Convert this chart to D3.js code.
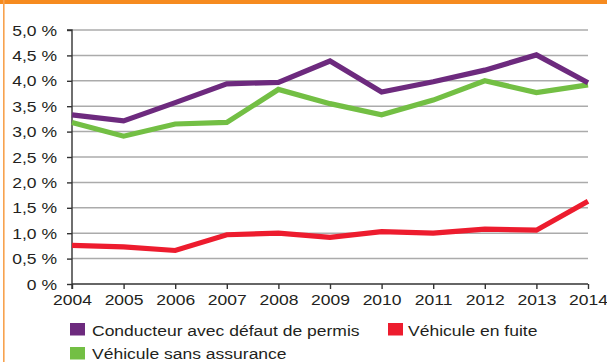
<!DOCTYPE html>
<html>
<head>
<meta charset="utf-8">
<script src="https://cdn.jsdelivr.net/npm/d3@7/dist/d3.min.js"></script>
<style>
  html, body { margin: 0; padding: 0; background: #fff; }
  svg { display: block; }
  text { font-family: "Liberation Sans", Arial, Helvetica, sans-serif; font-size: 14.6px; fill: #231f20; }
</style>
</head>
<body>
<svg id="chart" width="607" height="362"></svg>
<script>
// Years on the horizontal axis
const years = [2004, 2005, 2006, 2007, 2008, 2009, 2010, 2011, 2012, 2013, 2014];

// Share of accidents (%) by situation
const defautPermis = [3.33, 3.21, 3.57, 3.94, 3.97, 4.39, 3.78, 3.98, 4.21, 4.51, 3.96];
const sansAssurance = [3.18, 2.91, 3.15, 3.18, 3.83, 3.55, 3.33, 3.62, 4.0, 3.77, 3.92];
const enFuite = [0.76, 0.73, 0.66, 0.97, 1.0, 0.92, 1.03, 1.0, 1.08, 1.06, 1.63];

// Vertical axis ticks and their labels
const yTicks = [0, 0.5, 1, 1.5, 2, 2.5, 3, 3.5, 4, 4.5, 5];
const yTickLabels = ["0 %", "0,5 %", "1,0 %", "1,5 %", "2,0 %", "2,5 %", "3,0 %", "3,5 %", "4,0 %", "4,5 %", "5,0 %"];

const seriesNames = ["Conducteur avec défaut de permis", "Véhicule en fuite", "Véhicule sans assurance"];
const seriesColors = ["#6d2a7e", "#ed1c2e", "#73bf44"];
const seriesValues = [defautPermis, enFuite, sansAssurance];

const svg = d3.select("#chart");
const stretch = "scale(1.2,1)";
const fontSize = "14.6px";

// Orange frame: top band and thin left rule
svg.append("rect").attr("x", 0).attr("y", 0).attr("width", 607).attr("height", 4).attr("fill", "#f68b1f");
svg.append("rect").attr("x", 3).attr("y", 0).attr("width", 1.6).attr("height", 362).attr("fill", "#f7a24f");

const x = d3.scaleLinear().domain([2004, 2014]).range([72, 588]);
const y = d3.scaleLinear().domain([0, 5]).range([284, 30]);

// Horizontal gridlines
svg.append("g")
  .selectAll("line")
  .data(yTicks.filter(d => d > 0))
  .join("line")
  .attr("x1", x(2004)).attr("x2", x(2014))
  .attr("y1", d => y(d)).attr("y2", d => y(d))
  .attr("stroke", "#ababab")
  .attr("stroke-width", 1.5);

// Y axis
const yAxis = svg.append("g")
  .attr("transform", `translate(${x(2004)},0)`)
  .call(d3.axisLeft(y).tickValues(yTicks).tickSize(5).tickFormat((d, i) => yTickLabels[i]));
yAxis.select(".domain").attr("stroke", "#333").attr("stroke-width", 1.4).attr("d", `M-5,${y(5)}H0V${y(0) + 5}`);
yAxis.selectAll(".tick line").attr("stroke", "#333").attr("stroke-width", 1.4);
yAxis.selectAll(".tick text")
  .attr("x", null).attr("dy", "0.35em")
  .attr("text-anchor", "end")
  .attr("transform", `translate(-15,0) ${stretch}`)
  .style("font-size", fontSize).attr("fill", "#231f20");

// X axis
const xAxis = svg.append("g")
  .attr("transform", `translate(0,${y(0)})`)
  .call(d3.axisBottom(x).tickValues(years).tickSize(5).tickFormat(d3.format("d")));
xAxis.select(".domain").attr("stroke", "#333").attr("stroke-width", 1.4).attr("d", `M${x(2004)},0H${x(2014)}`);
xAxis.selectAll(".tick line").attr("stroke", "#333").attr("stroke-width", 1.4);
xAxis.selectAll(".tick text")
  .attr("y", null).attr("dy", null)
  .attr("text-anchor", "middle")
  .attr("transform", `translate(0,21) ${stretch}`)
  .style("font-size", fontSize).attr("fill", "#231f20");

// Series lines (red first, then green, purple on top)
const line = d3.line().x((d, i) => x(years[i])).y(d => y(d));
[1, 2, 0].forEach(k => {
  svg.append("path")
    .datum(seriesValues[k])
    .attr("d", line)
    .attr("fill", "none")
    .attr("stroke", seriesColors[k])
    .attr("stroke-width", 5.2)
    .attr("stroke-linejoin", "miter");
});

// Legend
const legendItems = [
  { k: 0, sx: 70, tx: 92, ty: 336, sy: 323 },
  { k: 1, sx: 388, tx: 408, ty: 336, sy: 323 },
  { k: 2, sx: 70, tx: 92, ty: 359, sy: 347 }
];
const legend = svg.append("g");
legendItems.forEach(it => {
  legend.append("rect")
    .attr("x", it.sx).attr("y", it.sy)
    .attr("width", 15).attr("height", 12.5)
    .attr("fill", seriesColors[it.k]);
  legend.append("text")
    .attr("transform", `translate(${it.tx},${it.ty}) ${stretch}`)
    .text(seriesNames[it.k]);
});
</script>
</body>
</html>
